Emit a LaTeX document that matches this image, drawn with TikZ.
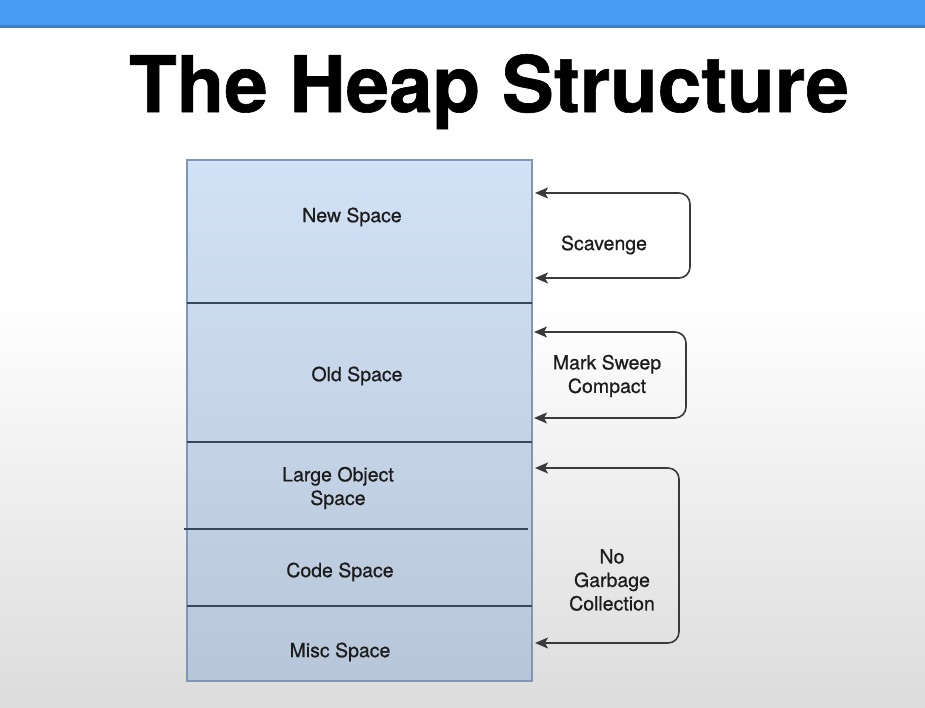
\documentclass[tikz,border=0pt]{standalone}
\usepackage{fontspec}
\setmainfont{TeX Gyre Heros}
\newfontfamily\labelfont[FakeBold=0.6]{TeX Gyre Heros}
\newfontfamily\titlefont[FakeBold=0.8]{TeX Gyre Heros}
\usetikzlibrary{arrows.meta}

\definecolor{barblue}{RGB}{72,156,241}
\definecolor{baredge}{RGB}{58,128,200}
\definecolor{bgbottom}{RGB}{220,220,220}
\definecolor{heaptop}{RGB}{210,226,246}
\definecolor{heapbottom}{RGB}{184,198,217}
\definecolor{heapborder}{RGB}{128,150,180}
\definecolor{divline}{RGB}{55,72,92}
\definecolor{loopline}{RGB}{58,58,58}
\definecolor{labeltext}{RGB}{28,28,28}

\tikzset{
  heapbox/.style={draw=heapborder, line width=1.2pt, top color=heaptop,
    bottom color=heapbottom, minimum width=345pt, minimum height=521pt,
    inner sep=0pt, outer sep=0pt, anchor=north west},
  divider/.style={draw=divline, line width=1.6pt},
  spacelabel/.style={font=\labelfont\fontsize{19.5}{23.5}\selectfont, text=labeltext,
    align=center, inner sep=0pt},
  gcloop/.style={draw=loopline, line width=1.6pt, rounded corners=11pt},
}

\begin{document}
\begin{tikzpicture}[x=1pt,y=-1pt,
  >={Stealth[length=13pt,width=11pt,inset=3pt]}]
  \useasboundingbox (0,0) rectangle (925,707);

  % slide background with its soft grey fade and the blue header bar
  \fill[white] (0,0) rectangle (925,707);
  \shade[top color=white, bottom color=bgbottom] (0,300) rectangle (925,707);
  \fill[barblue] (0,0) rectangle (925,25);
  \fill[baredge] (0,25) rectangle (925,27.5);

  % title
  \node[font=\titlefont\fontsize{78}{80}\selectfont\bfseries, anchor=base, inner sep=0pt]
    (title) at (489,112) {The Heap Structure};

  % the heap column and its sections
  \node[heapbox] (heap) at (187,160) {};
  \draw[divider] (187,303) -- (532,303);
  \draw[divider] (187,442) -- (532,442);
  \draw[divider] (184,529) -- (528,529);
  \draw[divider] (187,606) -- (532,606);

  \node[spacelabel] (newsp)   at (352,217) {New Space};
  \node[spacelabel] (oldsp)   at (357,376) {Old Space};
  \node[spacelabel] (largesp) at (338,488) {Large Object\\Space};
  \node[spacelabel] (codesp)  at (340,572) {Code Space};
  \node[spacelabel] (miscsp)  at (340,652) {Misc Space};

  % collector loops on the right-hand side
  \coordinate (scTop) at (535,193);
  \coordinate (scBot) at (535,278);
  \coordinate (msTop) at (534,332);
  \coordinate (msBot) at (534,418);
  \coordinate (ngTop) at (535,468);
  \coordinate (ngBot) at (535,643);

  \draw[gcloop, <->] (scTop) -- (690,193) -- (690,278) -- (scBot);
  \draw[gcloop, <->] (msTop) -- (686,332) -- (686,418) -- (msBot);
  \draw[gcloop, <->] (ngTop) -- (679,468) -- (679,643) -- (ngBot);

  \node[spacelabel] (scav) at (604,245) {Scavenge};
  \node[spacelabel] (msc)  at (607,376) {Mark Sweep\\Compact};
  \node[spacelabel] (nogc) at (612,580) {No\\Garbage\\Collection};
\end{tikzpicture}
\end{document}
